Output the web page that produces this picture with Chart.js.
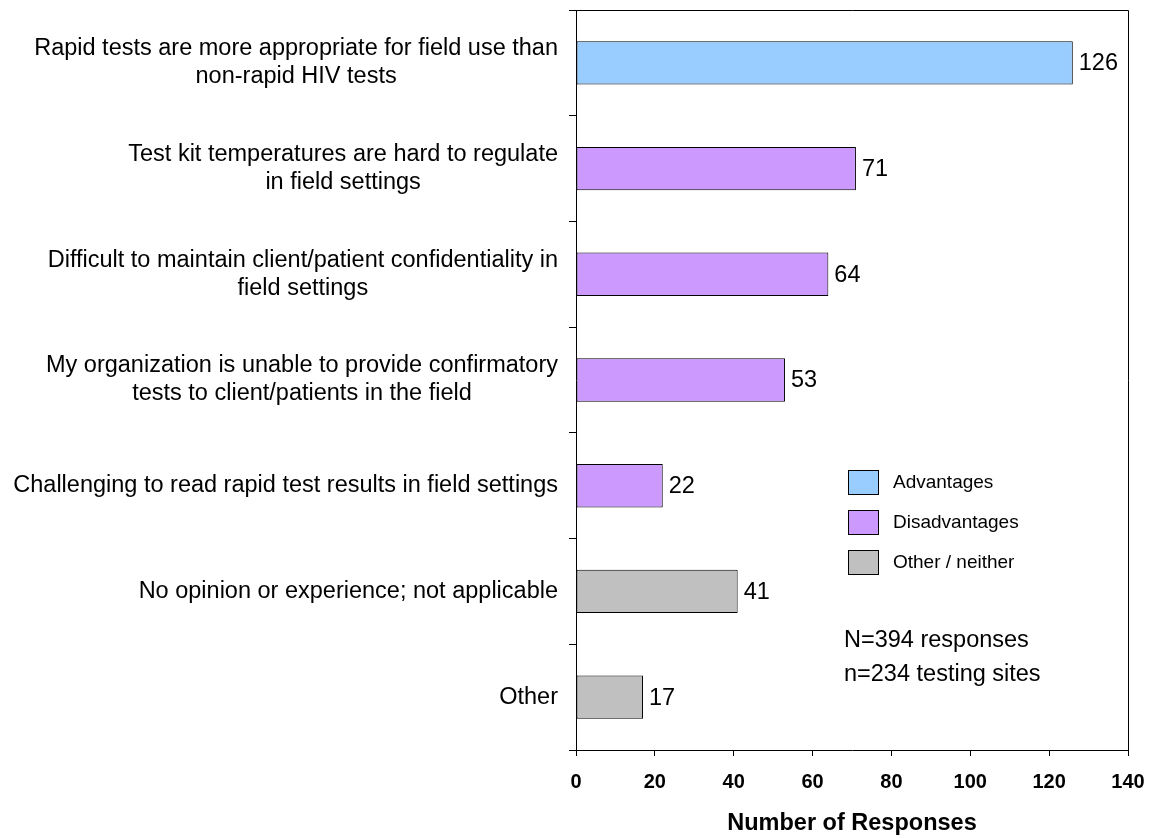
<!DOCTYPE html>
<html>
<head>
<meta charset="utf-8">
<script src="https://cdn.jsdelivr.net/npm/chart.js@4.4.1/dist/chart.umd.min.js"></script>
<style>
  html, body { margin: 0; padding: 0; background: #fff; }
  canvas { display: block; }
</style>
</head>
<body>
<canvas id="grafico" width="1151" height="838"></canvas>
<script>
// categories (each one already split into lines like the original)
const categorias = [
    ['Rapid tests are more appropriate for field use than', 'non-rapid HIV tests'],
    ['Test kit temperatures are hard to regulate', 'in field settings'],
    ['Difficult to maintain client/patient confidentiality in', 'field settings'],
    ['My organization is unable to provide confirmatory', 'tests to client/patients in the field'],
    ['Challenging to read rapid test results in field settings'],
    ['No opinion or experience; not applicable'],
    ['Other']
]
const respostas = [126, 71, 64, 53, 22, 41, 17]
const grupoDeCada = ['Advantages', 'Disadvantages', 'Disadvantages', 'Disadvantages', 'Disadvantages', 'Other / neither', 'Other / neither']
const grupos = ['Advantages', 'Disadvantages', 'Other / neither']
const coresGrupos = ['#99CCFF', '#CC99FF', '#C0C0C0']
const eixoX = { min: 0, max: 140, passo: 20 }
const notas = ['N=394 responses', 'n=234 testing sites']

const fonte = '"Liberation Sans", Arial, sans-serif'
Chart.defaults.font.family = fonte
Chart.defaults.color = '#000'

const datasets = grupos.map((g, k) => ({
    label: g,
    data: respostas.map((v, i) => grupoDeCada[i] === g ? v : null),
    backgroundColor: coresGrupos[k],
    borderColor: '#000',
    borderWidth: 1,
    borderSkipped: false,
    grouped: false,
    barPercentage: 1,
    categoryPercentage: 0.41
}))

const extras = {
    id: 'extras',
    afterDraw(chart) {
        const { ctx, chartArea: a, scales: { y } } = chart
        ctx.save()
        // top and right side of the frame
        ctx.strokeStyle = '#000'
        ctx.lineWidth = 1
        ctx.beginPath()
        ctx.moveTo(a.left, a.top + 0.5)
        ctx.lineTo(a.right + 0.5, a.top + 0.5)
        ctx.lineTo(a.right + 0.5, a.bottom)
        ctx.stroke()

        ctx.fillStyle = '#000'
        ctx.textBaseline = 'middle'

        // category labels, lines centred inside a right aligned block
        ctx.font = '23.5px ' + fonte
        ctx.textAlign = 'center'
        const direita = a.left - 18
        const alturaLinha = 28
        categorias.forEach((linhas, i) => {
            const largura = Math.max(...linhas.map(l => ctx.measureText(l).width))
            const cx = direita - largura / 2
            const cy = y.getPixelForValue(i)
            linhas.forEach((l, k) => {
                ctx.fillText(l, cx, cy + (k - (linhas.length - 1) / 2) * alturaLinha)
            })
        })

        // value labels at the end of each bar
        ctx.textAlign = 'left'
        chart.data.datasets.forEach((ds, d) => {
            chart.getDatasetMeta(d).data.forEach((barra, i) => {
                if (ds.data[i] == null) return
                ctx.fillText(String(ds.data[i]), barra.x + 6, barra.y + 1)
            })
        })

        // legend inside the plot
        ctx.font = '19px ' + fonte
        chart.data.datasets.forEach((ds, d) => {
            const topo = 470 + d * 40
            ctx.fillStyle = ds.backgroundColor
            ctx.fillRect(848, topo, 30, 24)
            ctx.strokeStyle = '#000'
            ctx.strokeRect(848.5, topo + 0.5, 30, 24)
            ctx.fillStyle = '#000'
            ctx.fillText(ds.label, 893, topo + 13)
        })

        // sample notes
        ctx.font = '23.5px ' + fonte
        notas.forEach((t, k) => ctx.fillText(t, 844, 641 + k * 34))
        ctx.restore()
    }
}

const grafico = new Chart(document.getElementById('grafico'), {
    type: 'bar',
    data: { labels: categorias, datasets: datasets },
    options: {
        indexAxis: 'y',
        responsive: false,
        animation: false,
        layout: { padding: { top: 10, right: 23, bottom: 0, left: 0 } },
        plugins: { legend: { display: false }, tooltip: { enabled: false } },
        scales: {
            x: {
                min: eixoX.min,
                max: eixoX.max,
                afterFit(scale) {
                    scale.height = 88
                    scale.paddingLeft = 0
                    scale.paddingRight = 0
                },
                ticks: { stepSize: eixoX.passo, padding: 14, font: { size: 20, weight: 'bold' } },
                grid: { drawOnChartArea: false, drawTicks: true, tickLength: 6, color: '#000' },
                border: { color: '#000', width: 1 },
                title: { display: true, text: 'Number of Responses', font: { size: 23.5, weight: 'bold' }, padding: { top: 0, bottom: 0 } }
            },
            y: {
                afterFit(scale) {
                    scale.width = 576
                    scale.paddingTop = 0
                    scale.paddingBottom = 0
                },
                ticks: { display: false },
                grid: { drawOnChartArea: false, drawTicks: true, tickLength: 7, color: '#000', offset: true },
                border: { color: '#000', width: 1 }
            }
        }
    },
    plugins: [extras]
})
</script>
</body>
</html>
